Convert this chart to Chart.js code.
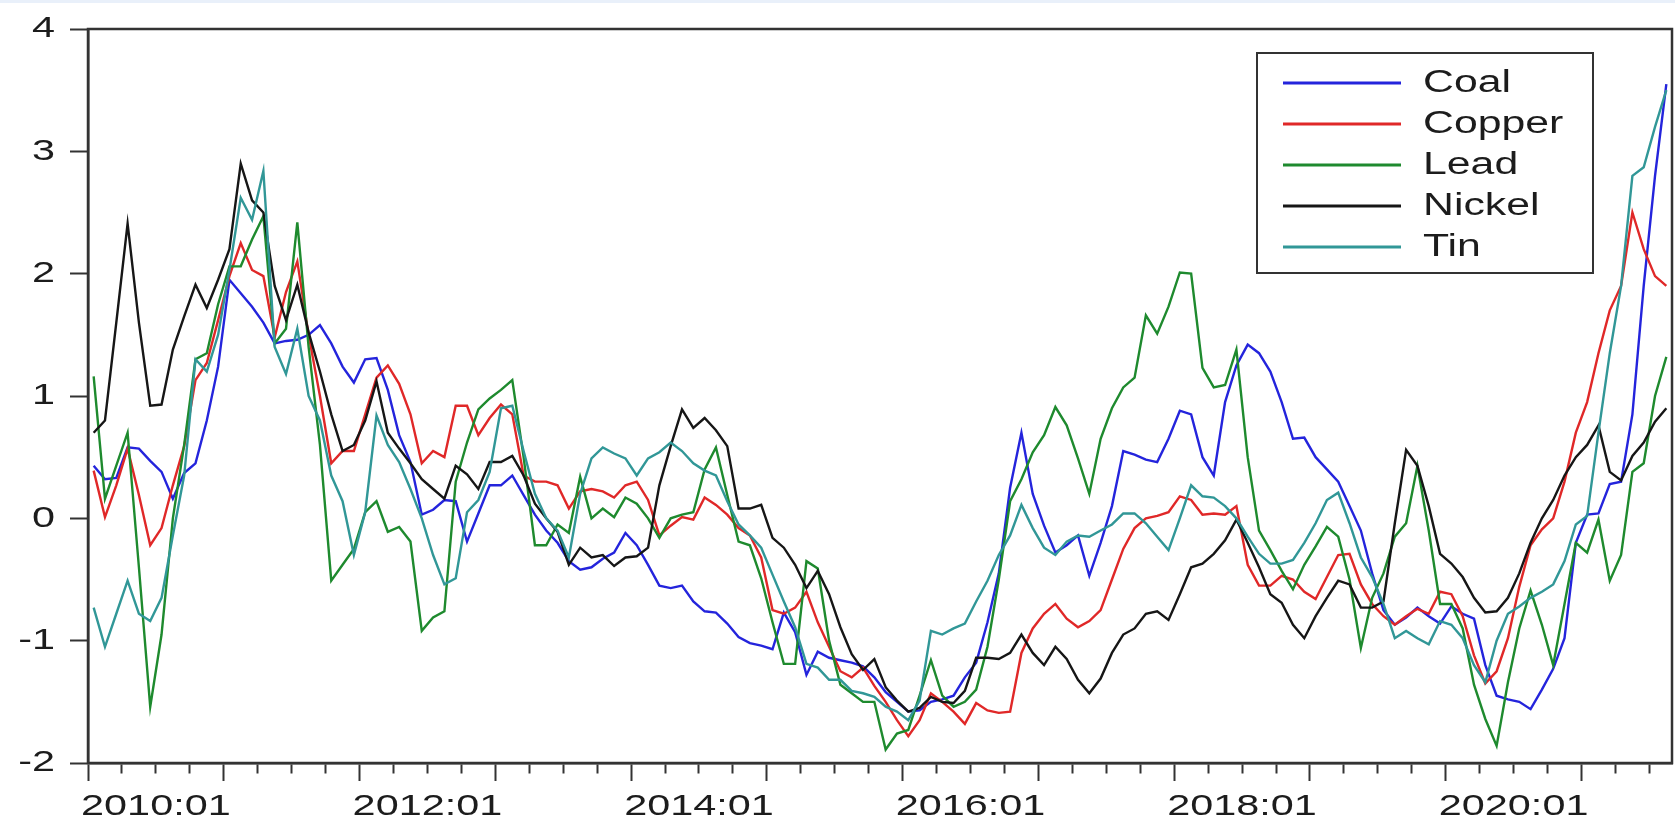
<!DOCTYPE html>
<html>
<head>
<meta charset="utf-8">
<title>Metal prices, standardised</title>
<script src="https://cdn.jsdelivr.net/npm/chart.js@4.4.1/dist/chart.umd.min.js"></script>
<style>
  html, body { margin: 0; background: #fff; }
  .strip { position: absolute; left: 0; top: 0; width: 100%; height: 3px; background: #e9f0fa; }
  canvas { display: block; }
</style>
</head>
<body>
<div class="strip"></div>
<canvas id="chart" width="1675" height="822"></canvas>
<script>
// monthly observations, 2010:01 .. 2021:08 (one row per year)
const startYear = 2010;
const labelYears = [2010, 2012, 2014, 2016, 2018, 2020];
const yTicks = [-2, -1, 0, 1, 2, 3, 4];

const coal = [
  0.43, 0.32, 0.33, 0.58, 0.57, 0.47, 0.38, 0.16, 0.37, 0.45, 0.80, 1.24,
  1.95, 1.84, 1.73, 1.60, 1.43, 1.45, 1.46, 1.50, 1.58, 1.43, 1.24, 1.11,
  1.30, 1.31, 1.05, 0.68, 0.46, 0.03, 0.07, 0.15, 0.14, -0.19, 0.04, 0.27,
  0.27, 0.35, 0.19, 0.03, -0.10, -0.20, -0.35, -0.42, -0.40, -0.33, -0.28, -0.12,
  -0.22, -0.38, -0.55, -0.57, -0.55, -0.68, -0.76, -0.77, -0.86, -0.97, -1.02, -1.04,
  -1.07, -0.77, -0.93, -1.28, -1.09, -1.14, -1.16, -1.18, -1.21, -1.30, -1.42, -1.50,
  -1.58, -1.57, -1.50, -1.48, -1.45, -1.30, -1.18, -0.85, -0.45, 0.25, 0.70, 0.20,
  -0.06, -0.28, -0.22, -0.14, -0.47, -0.20, 0.10, 0.55, 0.52, 0.48, 0.46, 0.65,
  0.88, 0.85, 0.50, 0.35, 0.95, 1.25, 1.42, 1.35, 1.20, 0.95, 0.65, 0.66,
  0.50, 0.40, 0.30, 0.10, -0.10, -0.45, -0.75, -0.87, -0.81, -0.73, -0.80, -0.86,
  -0.72, -0.78, -0.82, -1.20, -1.45, -1.48, -1.50, -1.56, -1.40, -1.23, -0.98, -0.20,
  0.03, 0.04, 0.28, 0.30, 0.85, 1.90, 2.80, 3.55
];
const copper = [
  0.39, 0.01, 0.27, 0.57, 0.19, -0.22, -0.08, 0.27, 0.59, 1.13, 1.27, 1.62,
  1.98, 2.25, 2.03, 1.98, 1.48, 1.85, 2.10, 1.50, 1.00, 0.45, 0.55, 0.55,
  0.85, 1.15, 1.25, 1.10, 0.85, 0.45, 0.55, 0.50, 0.92, 0.92, 0.68, 0.82,
  0.93, 0.85, 0.35, 0.30, 0.30, 0.27, 0.08, 0.22, 0.24, 0.22, 0.17, 0.27,
  0.30, 0.15, -0.14, -0.06, 0.01, -0.01, 0.17, 0.11, 0.03, -0.08, -0.14, -0.32,
  -0.75, -0.78, -0.73, -0.60, -0.85, -1.05, -1.25, -1.30, -1.22, -1.37, -1.50, -1.65,
  -1.78, -1.65, -1.43, -1.50, -1.58, -1.68, -1.51, -1.57, -1.59, -1.58, -1.10, -0.90,
  -0.78, -0.70, -0.82, -0.89, -0.84, -0.75, -0.50, -0.25, -0.08, 0.00, 0.02, 0.05,
  0.18, 0.15, 0.03, 0.04, 0.03, 0.10, -0.38, -0.55, -0.55, -0.47, -0.50, -0.60,
  -0.66, -0.48, -0.30, -0.29, -0.54, -0.70, -0.80, -0.87, -0.80, -0.74, -0.78, -0.60,
  -0.62, -0.80, -1.12, -1.35, -1.25, -0.98, -0.56, -0.22, -0.09, 0.00, 0.30, 0.70,
  0.95, 1.35, 1.70, 1.90, 2.50, 2.20, 1.98, 1.90
];
const lead = [
  1.16, 0.16, 0.43, 0.70, -0.40, -1.54, -0.95, 0.00, 0.60, 1.30, 1.35, 1.75,
  2.06, 2.06, 2.28, 2.47, 1.43, 1.55, 2.42, 1.40, 0.60, -0.51, -0.38, -0.25,
  0.05, 0.14, -0.11, -0.07, -0.19, -0.92, -0.81, -0.76, 0.30, 0.62, 0.89, 0.98,
  1.05, 1.13, 0.50, -0.22, -0.22, -0.05, -0.12, 0.34, 0.00, 0.08, 0.01, 0.17,
  0.12, 0.00, -0.16, 0.00, 0.03, 0.05, 0.40, 0.58, 0.19, -0.19, -0.22, -0.49,
  -0.85, -1.19, -1.19, -0.35, -0.41, -1.00, -1.36, -1.43, -1.50, -1.50, -1.89, -1.76,
  -1.73, -1.45, -1.16, -1.45, -1.54, -1.50, -1.40, -1.05, -0.50, 0.14, 0.32, 0.54,
  0.68, 0.91, 0.76, 0.49, 0.20, 0.65, 0.90, 1.07, 1.15, 1.66, 1.51, 1.73,
  2.01, 2.00, 1.23, 1.07, 1.09, 1.38, 0.50, -0.10, -0.26, -0.43, -0.58, -0.38,
  -0.23, -0.07, -0.15, -0.50, -1.06, -0.65, -0.45, -0.15, -0.04, 0.43, -0.10, -0.70,
  -0.70, -0.90, -1.36, -1.64, -1.86, -1.34, -0.90, -0.59, -0.87, -1.20, -0.70, -0.20,
  -0.28, -0.01, -0.51, -0.30, 0.38, 0.45, 1.00, 1.32
];
const nickel = [
  0.70, 0.80, 1.60, 2.41, 1.60, 0.92, 0.93, 1.38, 1.65, 1.91, 1.72, 1.95,
  2.20, 2.90, 2.60, 2.50, 1.90, 1.62, 1.91, 1.52, 1.20, 0.85, 0.55, 0.60,
  0.80, 1.12, 0.70, 0.57, 0.45, 0.32, 0.24, 0.16, 0.43, 0.36, 0.24, 0.46,
  0.46, 0.51, 0.35, 0.12, 0.00, -0.11, -0.38, -0.24, -0.32, -0.30, -0.39, -0.32,
  -0.31, -0.24, 0.27, 0.59, 0.89, 0.74, 0.82, 0.72, 0.59, 0.08, 0.08, 0.11,
  -0.16, -0.24, -0.38, -0.57, -0.43, -0.62, -0.89, -1.11, -1.24, -1.15, -1.38, -1.49,
  -1.58, -1.55, -1.46, -1.50, -1.51, -1.41, -1.14, -1.14, -1.15, -1.10, -0.95, -1.10,
  -1.20, -1.05, -1.15, -1.32, -1.43, -1.31, -1.10, -0.95, -0.90, -0.78, -0.76, -0.83,
  -0.62, -0.40, -0.37, -0.29, -0.18, -0.01, -0.20, -0.40, -0.62, -0.69, -0.87, -0.98,
  -0.80, -0.65, -0.51, -0.54, -0.73, -0.73, -0.68, -0.04, 0.56, 0.43, 0.10, -0.29,
  -0.37, -0.48, -0.65, -0.77, -0.76, -0.65, -0.45, -0.20, 0.00, 0.15, 0.35, 0.50,
  0.60, 0.76, 0.38, 0.31, 0.51, 0.62, 0.79, 0.90
];
const tin = [
  -0.73, -1.05, -0.78, -0.51, -0.78, -0.84, -0.65, -0.14, 0.35, 1.30, 1.20, 1.50,
  2.03, 2.62, 2.44, 2.84, 1.40, 1.18, 1.55, 1.00, 0.80, 0.35, 0.14, -0.30,
  0.05, 0.84, 0.60, 0.46, 0.24, 0.00, -0.30, -0.54, -0.49, 0.05, 0.15, 0.38,
  0.90, 0.92, 0.55, 0.20, 0.00, -0.10, -0.32, 0.20, 0.49, 0.58, 0.53, 0.49,
  0.35, 0.49, 0.54, 0.62, 0.55, 0.45, 0.39, 0.35, 0.14, -0.05, -0.14, -0.24,
  -0.46, -0.68, -0.89, -1.19, -1.22, -1.32, -1.32, -1.41, -1.43, -1.46, -1.54, -1.58,
  -1.65, -1.49, -0.92, -0.95, -0.90, -0.86, -0.68, -0.51, -0.30, -0.14, 0.11, -0.08,
  -0.24, -0.30, -0.19, -0.14, -0.15, -0.10, -0.05, 0.04, 0.04, -0.04, -0.15, -0.26,
  0.00, 0.27, 0.18, 0.17, 0.10, 0.00, -0.15, -0.29, -0.37, -0.37, -0.34, -0.20,
  -0.04, 0.15, 0.21, -0.04, -0.32, -0.48, -0.70, -0.98, -0.92, -0.98, -1.03, -0.84,
  -0.87, -0.98, -1.20, -1.34, -1.00, -0.78, -0.72, -0.65, -0.60, -0.54, -0.35, -0.05,
  0.02, 0.70, 1.35, 1.90, 2.80, 2.87, 3.20, 3.50
];

const seriesNames = ['Coal', 'Copper', 'Lead', 'Nickel', 'Tin'];
const seriesData = [coal, copper, lead, nickel, tin];
const seriesColors = ['#2424dc', '#e02828', '#1e8a2e', '#161616', '#319797'];

const axisColor = '#333';
const textColor = '#1c1c1c';
const fontFamily = '"Liberation Sans", Arial, sans-serif';
const stretch = 1.38;   // the text in this figure is set wide

const nObs = coal.length;
const tickMonths = [];
for (let m = 0; m <= nObs - 2; m += 3) tickMonths.push(m);

// each observation sits in the middle of its month
const datasets = seriesNames.map((name, i) => ({
  label: name,
  data: seriesData[i].map((v, k) => ({x: k + 0.5, y: v})),
  borderColor: seriesColors[i],
  borderWidth: 2.4,
  pointRadius: 0,
  tension: 0,
  order: seriesNames.length - i
}));

function wideText(ctx, text, x, y, align) {
  ctx.save();
  ctx.translate(x, y);
  ctx.scale(stretch, 1);
  ctx.textAlign = align;
  ctx.fillText(text, 0, 0);
  ctx.restore();
}

const framePlugin = {
  id: 'frame',
  afterDatasetsDraw(chart) {
    const {ctx, chartArea: a} = chart;
    ctx.save();
    ctx.strokeStyle = axisColor;
    ctx.lineWidth = 2.5;
    ctx.strokeRect(a.left, a.top, a.right - a.left, a.bottom - a.top);
    ctx.restore();
  },
  afterDraw(chart) {
    const {ctx, chartArea: a} = chart;
    const xs = chart.scales.x, ys = chart.scales.y;
    ctx.save();
    ctx.fillStyle = textColor;

    // year labels, centred on the year they start
    ctx.font = '30px ' + fontFamily;
    ctx.textBaseline = 'alphabetic';
    labelYears.forEach(yr => {
      const m = (yr - startYear) * 12;
      const cx = (xs.getPixelForValue(m) + xs.getPixelForValue(m + 12)) / 2;
      wideText(ctx, yr + ':01', cx, a.bottom + 52, 'center');
    });

    // value labels on the left
    ctx.textBaseline = 'middle';
    yTicks.forEach(v => {
      wideText(ctx, String(v), a.left - 33, ys.getPixelForValue(v), 'right');
    });

    // legend box in the upper right
    const bx = a.right - 415, by = a.top + 24, bw = 336, bh = 220;
    ctx.fillStyle = '#fff';
    ctx.fillRect(bx, by, bw, bh);
    ctx.strokeStyle = axisColor;
    ctx.lineWidth = 2;
    ctx.strokeRect(bx, by, bw, bh);
    ctx.font = '31px ' + fontFamily;
    chart.data.datasets.forEach((ds, i) => {
      const ly = by + 30 + i * 41;
      ctx.strokeStyle = ds.borderColor;
      ctx.lineWidth = 3;
      ctx.beginPath();
      ctx.moveTo(bx + 26, ly);
      ctx.lineTo(bx + 144, ly);
      ctx.stroke();
      ctx.fillStyle = textColor;
      wideText(ctx, ds.label, bx + 166, ly, 'left');
    });
    ctx.restore();
  }
};

new Chart(document.getElementById('chart'), {
  type: 'line',
  data: {datasets},
  options: {
    responsive: false,
    devicePixelRatio: 1,
    animation: false,
    layout: {padding: {left: 70, top: 29, right: 3, bottom: 41}},
    plugins: {legend: {display: false}, tooltip: {enabled: false}},
    scales: {
      x: {
        type: 'linear',
        min: 0,
        max: nObs,
        afterBuildTicks: scale => { scale.ticks = tickMonths.map(v => ({value: v})); },
        ticks: {display: false},
        border: {display: true, color: axisColor, width: 2.5},
        grid: {
          drawOnChartArea: false,
          tickLength: 18,
          tickColor: axisColor,
          tickWidth: 2,
          // quarters get a short mark, years the full length
          tickBorderDash: c => (c.tick && c.tick.value % 12 === 0) ? [] : [9, 40]
        }
      },
      y: {
        min: -2,
        max: 4,
        ticks: {display: false, stepSize: 1},
        border: {display: true, color: axisColor, width: 2.5},
        grid: {drawOnChartArea: false, tickLength: 18, tickColor: axisColor, tickWidth: 2}
      }
    }
  },
  plugins: [framePlugin]
});
</script>
</body>
</html>
